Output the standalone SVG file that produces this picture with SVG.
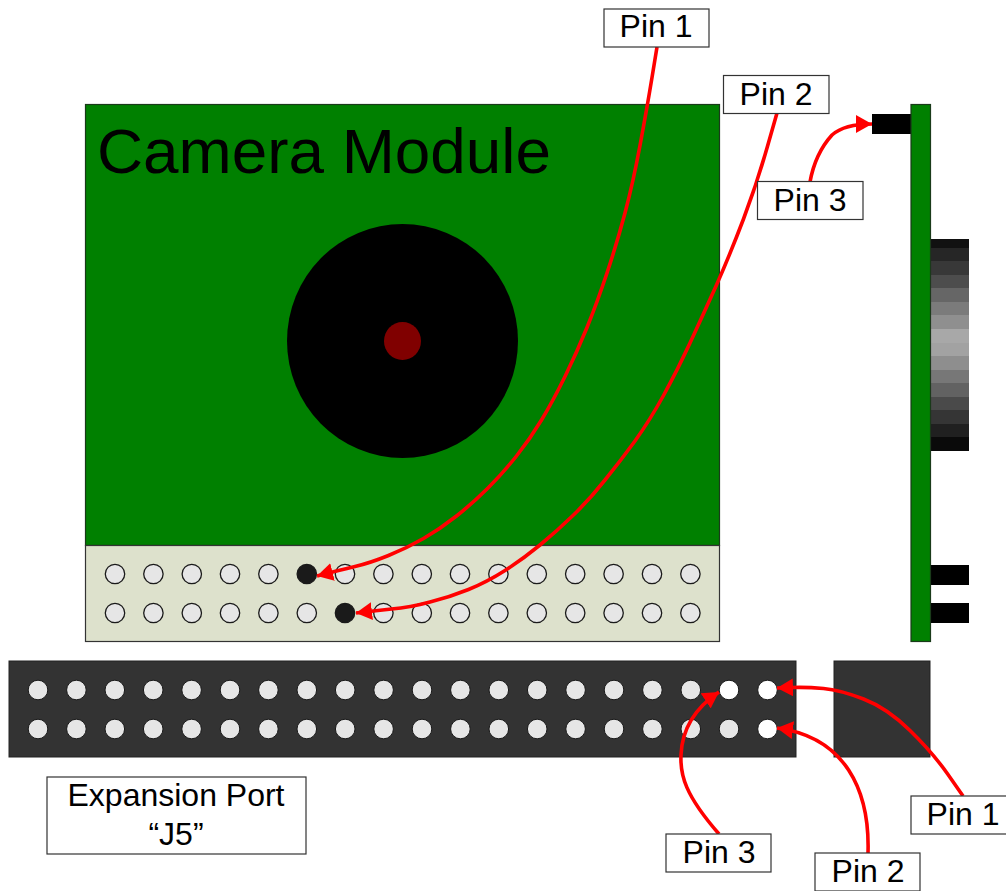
<svg xmlns="http://www.w3.org/2000/svg" width="1006" height="891" viewBox="0 0 1006 891">
<style>
text{font-family:"Liberation Sans",Arial,sans-serif;fill:#000}
.lbl{font-size:32px;text-anchor:middle}
.box{fill:#fff;stroke:#333;stroke-width:1.2}
.pcb{fill:#008000;stroke:#1a3a1a;stroke-width:1.2}
.blk{fill:#000}
.port{fill:#333;stroke:#222;stroke-width:1}
.hole{fill:#e6e6e6;stroke:#1a1a1a;stroke-width:1.3}
.phole{fill:#e6e6e6;stroke:#1a1a1a;stroke-width:1}
.wht{fill:#fff;stroke:#1a1a1a;stroke-width:1}
.drk{fill:#1a1a1a;stroke:#1a1a1a;stroke-width:1.3}
.wire{fill:none;stroke:#f00;stroke-width:3.6;stroke-linejoin:round;marker-end:url(#a)}
</style>
<defs>
<marker id="a" markerUnits="userSpaceOnUse" markerWidth="18" markerHeight="18" refX="16" refY="9" orient="auto"><path d="M0 0L16 9L0 18Z" fill="#f00"/></marker>
<g id="h"><circle class="hole" r="9.700"/></g>
<g id="p"><circle class="phole" r="9.800"/></g>
</defs>
<g id="camera-module">
<rect class="pcb" x="85.500" y="104.500" width="634" height="441"/>
<rect x="85.500" y="545.500" width="634" height="96" fill="#dde1cc" stroke="#333" stroke-width="1.200"/>
<text x="97" y="173" font-size="63.800">Camera Module</text>
<ellipse cx="402.500" cy="341" rx="115.500" ry="117" fill="#000" id="lens"/>
<ellipse cx="402.500" cy="341" rx="18.500" ry="19" fill="#800000"/>
<use href="#h" x="115" y="574"/><use href="#h" x="153.400" y="574"/><use href="#h" x="191.800" y="574"/><use href="#h" x="230" y="574"/><use href="#h" x="268.400" y="574"/><circle class="drk" cx="306.800" cy="574" r="9.700"/><use href="#h" x="345" y="574"/><use href="#h" x="383.400" y="574"/><use href="#h" x="421.800" y="574"/><use href="#h" x="460" y="574"/><use href="#h" x="498.400" y="574"/><use href="#h" x="536.800" y="574"/><use href="#h" x="575.200" y="574"/><use href="#h" x="613.600" y="574"/><use href="#h" x="652" y="574"/><use href="#h" x="690.400" y="574"/>
<use href="#h" x="115" y="613"/><use href="#h" x="153.400" y="613"/><use href="#h" x="191.800" y="613"/><use href="#h" x="230" y="613"/><use href="#h" x="268.400" y="613"/><use href="#h" x="306.800" y="613"/><circle class="drk" cx="345" cy="613" r="9.700"/><use href="#h" x="383.400" y="613"/><use href="#h" x="421.800" y="613"/><use href="#h" x="460" y="613"/><use href="#h" x="498.400" y="613"/><use href="#h" x="536.800" y="613"/><use href="#h" x="575.200" y="613"/><use href="#h" x="613.600" y="613"/><use href="#h" x="652" y="613"/><use href="#h" x="690.400" y="613"/>
</g>
<g id="side-view">
<rect class="blk" x="872" y="114" width="39" height="20"/>
<rect class="blk" x="930" y="565" width="39" height="20"/>
<rect class="blk" x="930" y="603" width="39" height="20"/>
<g shape-rendering="crispEdges">
<rect x="930" y="239" width="39" height="9" fill="#111"/><rect x="930" y="248" width="39" height="13" fill="#262626"/><rect x="930" y="261" width="39" height="14" fill="#383838"/><rect x="930" y="275" width="39" height="13" fill="#4d4d4d"/><rect x="930" y="288" width="39" height="14" fill="#666"/><rect x="930" y="302" width="39" height="13" fill="#7b7b7b"/><rect x="930" y="315" width="39" height="14" fill="#8f8f8f"/><rect x="930" y="329" width="39" height="14" fill="#a8a8a8"/><rect x="930" y="343" width="39" height="13" fill="#a2a2a2"/><rect x="930" y="356" width="39" height="14" fill="#8e8e8e"/><rect x="930" y="370" width="39" height="13" fill="#777"/><rect x="930" y="383" width="39" height="14" fill="#626262"/><rect x="930" y="397" width="39" height="13" fill="#4a4a4a"/><rect x="930" y="410" width="39" height="14" fill="#353535"/><rect x="930" y="424" width="39" height="13" fill="#202020"/><rect x="930" y="437" width="39" height="14" fill="#0a0a0a"/>
</g>
<rect class="pcb" x="911" y="104.500" width="19.500" height="537"/>
</g>
<g id="expansion-port">
<rect class="port" x="9" y="661" width="787" height="96"/>
<rect class="port" x="834" y="661" width="96" height="96"/>
<use href="#p" x="38" y="690"/><use href="#p" x="76.400" y="690"/><use href="#p" x="114.800" y="690"/><use href="#p" x="153.200" y="690"/><use href="#p" x="191.600" y="690"/><use href="#p" x="230" y="690"/><use href="#p" x="268.400" y="690"/><use href="#p" x="306.800" y="690"/><use href="#p" x="345.200" y="690"/><use href="#p" x="383.600" y="690"/><use href="#p" x="422" y="690"/><use href="#p" x="460.400" y="690"/><use href="#p" x="498.800" y="690"/><use href="#p" x="537.200" y="690"/><use href="#p" x="575.600" y="690"/><use href="#p" x="614" y="690"/><use href="#p" x="652.400" y="690"/><use href="#p" x="690.800" y="690"/><circle class="wht" cx="729" cy="690" r="9.800"/><circle class="wht" cx="767.500" cy="690" r="9.800"/>
<use href="#p" x="38" y="729"/><use href="#p" x="76.400" y="729"/><use href="#p" x="114.800" y="729"/><use href="#p" x="153.200" y="729"/><use href="#p" x="191.600" y="729"/><use href="#p" x="230" y="729"/><use href="#p" x="268.400" y="729"/><use href="#p" x="306.800" y="729"/><use href="#p" x="345.200" y="729"/><use href="#p" x="383.600" y="729"/><use href="#p" x="422" y="729"/><use href="#p" x="460.400" y="729"/><use href="#p" x="498.800" y="729"/><use href="#p" x="537.200" y="729"/><use href="#p" x="575.600" y="729"/><use href="#p" x="614" y="729"/><use href="#p" x="652.400" y="729"/><use href="#p" x="690.800" y="729"/><use href="#p" x="729" y="729"/><circle class="wht" cx="767.500" cy="729" r="9.800"/>
</g>
<g id="connectors">
<path class="wire" d="M657 47L652 77.500Q647 108 640 145.500Q633 183 625 213Q617 243 607 273Q597 303 587 327.500Q577 352 565 376.500Q553 401 541.500 420Q530 439 516.500 456Q503 473 488 488Q473 503 456.500 516Q440 529 423.500 538.500Q407 548 388.500 555.500Q370 563 355 566.500Q340 570 317 576"/>
<path class="wire" d="M777 113L767 148Q757 183 743.500 219Q730 254.500 716.500 285Q703 315 690 343Q677 371 663.500 395.500Q650 420 635 441Q620 461.500 605 480Q590 499 573.500 515Q557 531 540 545Q523 559 505 570.500Q487 582 468.500 589.500Q450 597 430 602Q410 607.500 391.500 609Q373 611 356 613"/>
<path class="wire" d="M810 182C814 160 822 146 832 135C841 127 855 124 872 124"/>
<path class="wire" d="M963 796L948 774.500Q933 753 910 730.500Q887 708 863.500 699Q840 690 823.500 688.500Q807 687 792 687.500L777 688"/>
<path class="wire" d="M868 853C870 790 845 737 777 728"/>
<path class="wire" d="M719 834C685 795 680 775 681 755C682 730 695 708 719 692"/>
</g>
<g id="pin1-top"><rect class="box" x="604" y="9" width="105" height="38"/><text class="lbl" x="656" y="37">Pin 1</text></g>
<g id="pin2-top"><rect class="box" x="723.500" y="75.500" width="105.500" height="38"/><text class="lbl" x="776" y="105">Pin 2</text></g>
<g id="pin3-top"><rect class="box" x="757.500" y="181.500" width="105.500" height="38"/><text class="lbl" x="810" y="211">Pin 3</text></g>
<g id="pin1-bottom"><rect class="box" x="911" y="796" width="105" height="38"/><text class="lbl" x="963" y="825">Pin 1</text></g>
<g id="pin3-bottom"><rect class="box" x="666" y="834" width="105" height="38"/><text class="lbl" x="719" y="863">Pin 3</text></g>
<g id="pin2-bottom"><rect class="box" x="815" y="853" width="105" height="38"/><text class="lbl" x="868" y="882">Pin 2</text></g>
<g id="expansion-label"><rect class="box" x="47" y="777" width="259" height="77"/><text class="lbl" x="176" y="806">Expansion Port</text><text class="lbl" x="176" y="845">“J5”</text></g>
</svg>
